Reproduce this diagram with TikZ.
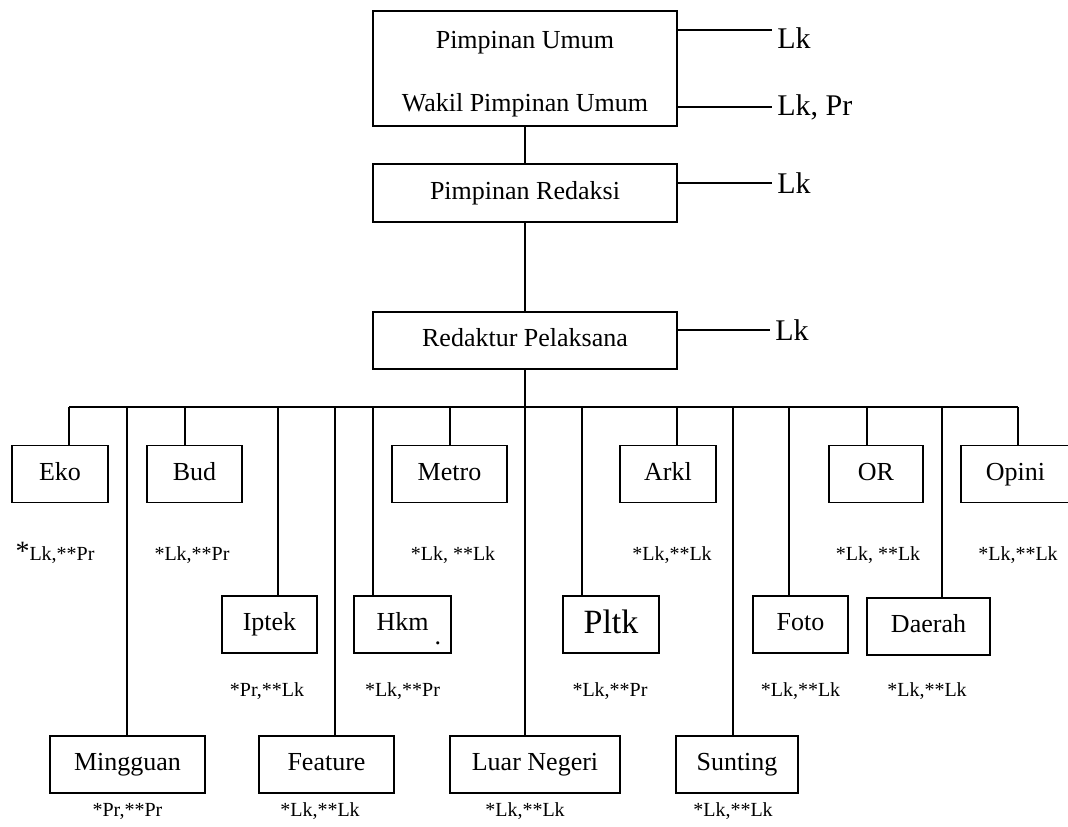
\documentclass[tikz,border=0pt]{standalone}
\usepackage{fontspec}
\setmainfont{Liberation Serif}
\usepackage{tikz}
\usetikzlibrary{positioning}

\tikzset{
  box/.style={draw,line width=0.8pt,inner sep=2pt,minimum height=28.5pt,
              font=\fontsize{13}{15.6}\selectfont},
  kotak/.style={box,text height=9.2pt,text depth=2.8pt},
  note/.style={inner sep=0pt,text height=7pt,text depth=2pt,
               font=\fontsize{10}{12}\selectfont},
  lk/.style={inner sep=1pt,font=\fontsize{15}{18}\selectfont},
  link/.style={line width=0.8pt},
  longlink/.style={line width=1.1pt}
}

\begin{document}
\begin{tikzpicture}[x=0.5pt,y=-0.5pt]
                \useasboundingbox (0,0) rectangle (1068,826);
                % pimpinan
                \node[box,minimum width=152pt,minimum height=57.5pt,align=center] (top) at (525,68.5)
                    {\rule{0pt}{14pt}Pimpinan Umum\\[16pt]Wakil Pimpinan Umum};
                \node[kotak,minimum width=152pt,minimum height=29pt] (pr) at (525,193) {Pimpinan Redaksi};
                \node[kotak,minimum width=152pt] (rp) at (525,340.5) {Redaktur Pelaksana};
                % baris pertama
                \node[kotak,minimum width=48pt] (eko) at (60,474) {Eko};
                \node[kotak,minimum width=47.5pt] (bud) at (194.5,474) {Bud};
                \node[kotak,minimum width=57.5pt] (metro) at (449.5,474) {Metro};
                \node[kotak,minimum width=48pt] (arkl) at (668,474) {Arkl};
                \node[kotak,minimum width=47pt] (olrg) at (876,474) {OR};
                \node[kotak,minimum width=54.5pt] (opini) at (1015.5,474) {Opini};
                % baris kedua
                \node[kotak,minimum width=47.5pt] (iptek) at (269.5,624.5) {Iptek};
                \node[kotak,minimum width=48.5pt] (hkm) at (402.5,624.5)
                    {Hkm\rlap{\hspace{3pt}\smash{\raisebox{-7pt}{.}}}};
                \node[kotak,minimum width=48pt,font=\fontsize{17}{20}\selectfont,
                      text height=11.5pt,text depth=3pt] (pltk) at (611,624.5) {Pltk};
                \node[kotak,minimum width=47.5pt] (foto) at (800.5,624.5) {Foto};
                \node[kotak,minimum width=61.5pt] (daerah) at (928.5,626.5) {Daerah};
                % baris ketiga
                \node[kotak,minimum width=77.5pt] (minggu) at (127.5,764.5) {Mingguan};
                \node[kotak,minimum width=67.5pt] (feature) at (326.5,764.5) {Feature};
                \node[kotak,minimum width=85pt] (luneg) at (535,764.5) {Luar Negeri};
                \node[kotak,minimum width=61pt] (sunting) at (737,764.5) {Sunting};
                % keterangan kanan
                \coordinate (e1) at (772,30);
                \coordinate (e2) at (772,107);
                \coordinate (e3) at (772,183);
                \coordinate (e4) at (770,330);
                \node[lk,right=1.5pt of e1,yshift=-4pt] (lk-pu) {Lk};
                \node[lk,right=1.5pt of e2] (lk-wpu) {Lk, Pr};
                \node[lk,right=1.5pt of e3] (lk-pr) {Lk};
                \node[lk,right=1.5pt of e4] (lk-rp) {Lk};
                % keterangan bawah kotak
                \node[note,below=21.3pt of eko,xshift=-2.5pt] (n-eko) {{\fontsize{14}{14}\selectfont *}Lk,**Pr};
                \node[note,below=21.3pt of bud,xshift=-1.25pt] (n-bud) {*Lk,**Pr};
                \node[note,below=21.3pt of metro,xshift=1.75pt] (n-metro) {*Lk, **Lk};
                \node[note,below=21.3pt of arkl,xshift=2pt] (n-arkl) {*Lk,**Lk};
                \node[note,below=21.3pt of olrg,xshift=1pt] (n-olrg) {*Lk, **Lk};
                \node[note,below=21.3pt of opini,xshift=1.25pt] (n-opini) {*Lk,**Lk};
                \node[note,below=14.3pt of iptek,xshift=-1.25pt] (n-iptek) {*Pr,**Lk};
                \node[note,below=14.3pt of hkm] (n-hkm) {*Lk,**Pr};
                \node[note,below=14.3pt of pltk,xshift=-0.5pt] (n-pltk) {*Lk,**Pr};
                \node[note,below=14.3pt of foto] (n-foto) {*Lk,**Lk};
                \node[note,below=13.3pt of daerah,xshift=-0.75pt] (n-daerah) {*Lk,**Lk};
                \node[note,below=4.3pt of minggu] (n-minggu) {*Pr,**Pr};
                \node[note,below=4.3pt of feature,xshift=-3.25pt] (n-feature) {*Lk,**Lk};
                \node[note,below=4.3pt of luneg,xshift=-5pt] (n-luneg) {*Lk,**Lk};
                \node[note,below=4.3pt of sunting,xshift=-2pt] (n-sunting) {*Lk,**Lk};
                % garis
                \foreach \n/\x in {eko/69,bud/185,metro/450,arkl/677,olrg/867,opini/1018,
                                   iptek/278,hkm/373,pltk/582,foto/789,daerah/942,
                                   minggu/127,feature/335,luneg/525,sunting/733}
                    \coordinate (d-\n) at (\x,407);
                \draw[link] (top) -- (pr);
                \draw[link] (pr) -- (rp);
                \draw[longlink] (rp) -- (d-luneg);
                \draw[link] (d-eko) -- (d-opini);
                \foreach \n in {eko,bud,metro,arkl,olrg,opini}
                    \draw[link] (d-\n) -- (d-\n |- \n.north);
                \foreach \n in {iptek,hkm,pltk,foto,daerah,minggu,feature,luneg,sunting}
                    \draw[longlink] (d-\n) -- (d-\n |- \n.north);
                \draw[link] (top.east |- e1) -- (e1);
                \draw[link] (top.east |- e2) -- (e2);
                \draw[link] (pr.east |- e3) -- (e3);
                \draw[link] (rp.east |- e4) -- (e4);
\end{tikzpicture}
\end{document}
